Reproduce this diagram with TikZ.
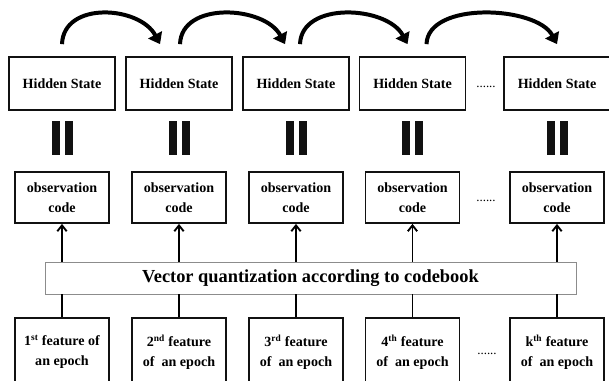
\documentclass[tikz,border=0pt]{standalone}
\usepackage{fontspec}
\setmainfont{Liberation Serif}
\usetikzlibrary{arrows.meta,calc}
\definecolor{boxline}{HTML}{111111}
\definecolor{vqline}{HTML}{8C8C8C}
\tikzset{
  hidden/.style={
    draw=boxline,
    line width=1.5pt,
    fill=white,
    inner sep=0pt,
    minimum width=3.18cm,
    minimum height=1.59cm,
    font=\fontsize{12}{14}\selectfont\bfseries
  },
  obsbox/.style={
    draw=boxline,
    line width=1.5pt,
    fill=white,
    align=center,
    inner sep=0pt,
    minimum width=2.82cm,
    minimum height=1.53cm,
    font=\fontsize{12}{17}\selectfont\bfseries
  },
  featbox/.style={obsbox, minimum height=2.04cm},
  vqbox/.style={
    draw=vqline,
    line width=0.6pt,
    fill=white,
    minimum width=15.93cm,
    minimum height=0.96cm,
    font=\fontsize{15.7}{17}\selectfont\bfseries
  },
  hop/.style={line width=3.4pt, -{Triangle[length=9pt,width=13pt]}},
  feed/.style={line width=1.6pt},
  lift/.style={feed, -{Straight Barb[length=5pt,width=8pt]}},
  eqbar/.style={fill=boxline},
  dots/.style={font=\fontsize{11}{12}\selectfont, anchor=base, inner sep=0pt}
}

\begin{document}
\begin{tikzpicture}[x=0.03cm,y=0.03cm]
\clip (0,0) rectangle (609,380);
\fill[white] (0,0) rectangle (609,380);

% hidden states, equality bars and observation codes
\foreach \i/\cx in {1/62,2/179,3/296,4/412.5,5/557}{
  \node[hidden] (h\i) at (\cx,296.5) {Hidden State};
  \fill[eqbar] (\cx-10.5,225) rectangle (\cx-2.5,259);
  \fill[eqbar] (\cx+2.5,225) rectangle (\cx+10.5,259);
  \node[obsbox] (o\i) at (\cx,182.5) {observation\\code};
}

\node[vqbox] (vq) at (310.5,102) {Vector quantization according to codebook};

\node[featbox] (f1) at (62,28) {1\textsuperscript{st} feature of\\an epoch};
\node[featbox] (f2) at (179,28) {2\textsuperscript{nd} feature\\of~ an epoch};
\node[featbox] (f3) at (296,28) {3\textsuperscript{rd} feature\\of~ an epoch};
\node[featbox] (f4) at (412.5,28) {4\textsuperscript{th} feature\\of~ an epoch};
\node[featbox] (f5) at (557,28) {k\textsuperscript{th} feature\\of~ an epoch};

\node[dots] (dh) at (486,293) {......};
\node[dots] (do) at (486,179) {......};
\node[dots] (df) at (487,26) {......};

\foreach \i in {1,...,5}{
  \draw[feed] (f\i.north) -- (f\i.north |- vq.south);
  \draw[lift] (o\i.south |- vq.north) -- (o\i.south);
}

% transitions between hidden states
\foreach \a/\b/\s/\e in {1/2/0/-19, 2/3/1/-11, 3/4/4/-5, 4/5/14/0}
  \draw[hop] ($(h\a.north)+(\s,12)$) to[out=88,in=118,distance=1.3cm] ($(h\b.north)+(\e,12)$);
\end{tikzpicture}
\end{document}
